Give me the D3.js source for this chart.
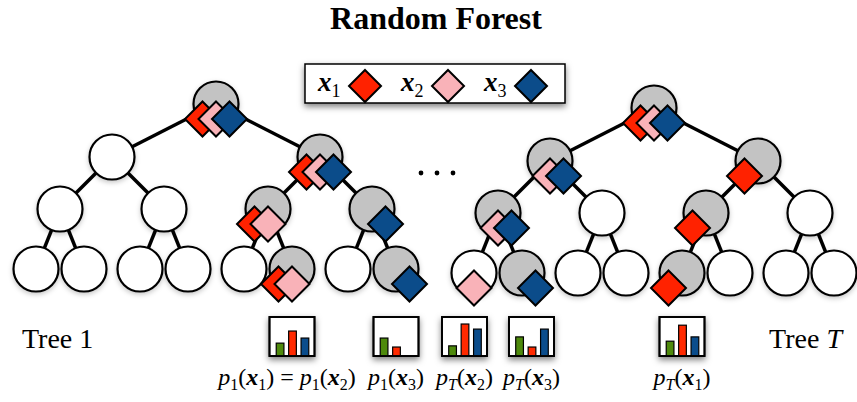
<!DOCTYPE html>
<html><head><meta charset="utf-8">
<script src="https://cdn.jsdelivr.net/npm/d3@7"></script>
<style>body{margin:0;background:#fff} svg{display:block}</style>
</head><body><svg id="c" width="857" height="402"></svg>
<script>
// ---------------- data ----------------
const title = "Random Forest";
const samples = ["1", "2", "3"];                       // x_1, x_2, x_3
const sampleColors = ["#ff2200", "#f9b2b8", "#0b4c8a"];
const classes = ["c1", "c2", "c3"];
const classColors = ["#4e8a0c", "#ff2a00", "#0b4d8c"];
const treeNames = ["1", "T"];
// decision path (L/R at each level) of each sample in each tree
const pathsTree1 = ["RLR", "RLR", "RRR"];
const pathsTreeT = ["RLL", "LLL", "LLR"];
// visited nodes that are drawn unshaded
const unshadedTree1 = [];
const unshadedTreeT = ["LLL"];
// leaf class histograms
const histTree = [0, 0, 1, 1, 1];
const histLeaf = ["RLR", "RRR", "LLL", "LLR", "RLL"];
const histValues = [
  [0.33, 0.64, 0.46],
  [0.46, 0.23, 0.00],
  [0.26, 0.82, 0.69],
  [0.49, 0.23, 0.69],
  [0.38, 0.79, 0.49]
];
// label terms: [tree index symbol, sample index]
const histLabels = [
  [["1", "1"], ["1", "2"]],
  [["1", "3"]],
  [["T", "2"]],
  [["T", "3"]],
  [["T", "1"]]
];

// ---------------- layout ----------------
const svg = d3.select("#c");
const FONT = "'Liberation Serif','Times New Roman',serif";
const defs = svg.append("defs");
function shadow(id, dy, sd, op) {
  const f = defs.append("filter").attr("id", id)
    .attr("x", "-50%").attr("y", "-50%").attr("width", "200%").attr("height", "200%");
  f.append("feDropShadow").attr("dx", 0).attr("dy", dy).attr("stdDeviation", sd)
    .attr("flood-color", "#000").attr("flood-opacity", op);
}
shadow("shC", 2, 2.5, 0.22);
shadow("shB", 3, 3, 0.5);

const depthY = d3.scaleOrdinal().domain([0, 1, 2, 3]).range([104, 157, 209, 269]);
const pairX = d3.scaleLinear().domain([0, 3]).range([36, 348]);
const leafGap = 48;
const treeShift = [[0, 0], [438, 4]];
const R = 22.5, H = 17.5, DDX = 13.5, DDY = 15;

const allPaths = [pathsTree1, pathsTreeT];
const unshaded = [unshadedTree1, unshadedTreeT];

function leafX(t, id) {
  const i = parseInt(id.replace(/L/g, "0").replace(/R/g, "1"), 2);
  return pairX(Math.floor(i / 2)) + (i % 2) * leafGap + treeShift[t][0];
}
function nodePos(t, id) {
  if (id.length === 3) return [leafX(t, id), depthY(3) + treeShift[t][1]];
  const a = nodePos(t, id + "L"), b = nodePos(t, id + "R");
  return [(a[0] + b[0]) / 2, depthY(id.length) + treeShift[t][1]];
}

// build nodes
const nodes = [], edges = [];
treeNames.forEach((tn, t) => {
  const ids = [""];
  for (let d = 1; d <= 3; d++) {
    const prev = ids.filter(s => s.length === d - 1);
    prev.forEach(p => { ids.push(p + "L"); ids.push(p + "R"); });
  }
  ids.forEach(id => {
    const [x, y] = nodePos(t, id);
    const visitors = allPaths[t].map((p, si) => p.startsWith(id) ? si : -1).filter(v => v >= 0);
    nodes.push({ t, id, x, y, visitors, shaded: visitors.length > 0 && !unshaded[t].includes(id) });
    if (id.length > 0) {
      const [px, py] = nodePos(t, id.slice(0, -1));
      edges.push({ x1: px, y1: py, x2: x, y2: y });
    }
  });
});

// title
svg.append("text").attr("x", 436).attr("y", 29).attr("text-anchor", "middle")
  .attr("font-family", FONT).attr("font-weight", "bold").attr("font-size", 32)
  .attr("fill", "#000").text(title);

// edges
svg.append("g").selectAll("line").data(edges).join("line")
  .attr("x1", d => d.x1).attr("y1", d => d.y1).attr("x2", d => d.x2).attr("y2", d => d.y2)
  .attr("stroke", "#000").attr("stroke-width", 3.5);

// circles
svg.append("g").selectAll("circle").data(nodes).join("circle")
  .attr("cx", d => d.x).attr("cy", d => d.y).attr("r", R)
  .attr("fill", d => d.shaded ? "#c3c3c3" : "#fff")
  .attr("stroke", "#000").attr("stroke-width", 2.2)
  .attr("filter", "url(#shC)");

// diamonds
const diamond = h => `M0,${-h}L${h},0L0,${h}L${-h},0Z`;
const dItems = [];
nodes.slice().sort((a, b) => a.id.length - b.id.length).forEach(n => {
  n.visitors.forEach(si => dItems.push({ x: n.x + (si - 1) * DDX, y: n.y + DDY, si }));
});
svg.append("g").selectAll("path").data(dItems).join("path")
  .attr("d", diamond(H))
  .attr("transform", d => `translate(${d.x},${d.y})`)
  .attr("fill", d => sampleColors[d.si])
  .attr("stroke", "#000").attr("stroke-width", 2).attr("stroke-linejoin", "miter");

// dots
const dotX = d3.scalePoint().domain([0, 1, 2]).range([421, 453]);
svg.append("g").selectAll("circle").data([0, 1, 2]).join("circle")
  .attr("cx", d => dotX(d)).attr("cy", 173).attr("r", 2.4).attr("fill", "#000");

// legend
const lg = svg.append("g");
lg.append("rect").attr("x", 305).attr("y", 64).attr("width", 260).attr("height", 39)
  .attr("fill", "#fff").attr("stroke", "#000").attr("stroke-width", 1.5).attr("filter", "url(#shB)");
const legX = d3.scalePoint().domain(samples).range([318, 484]);
samples.forEach((s, i) => {
  const tx = lg.append("text").attr("x", legX(s)).attr("y", 91)
    .attr("font-family", FONT).attr("font-size", 27).attr("fill", "#000");
  tx.append("tspan").attr("font-weight", "bold").attr("font-style", "italic").text("x");
  tx.append("tspan").attr("font-size", 18).attr("dy", 6).text(s);
  lg.append("path").attr("d", diamond(16))
    .attr("transform", `translate(${legX(s) + 47},${86})`)
    .attr("fill", sampleColors[i]).attr("stroke", "#000").attr("stroke-width", 2);
});

// tree labels
svg.append("text").attr("x", 22).attr("y", 348).attr("font-family", FONT)
  .attr("font-size", 28).attr("fill", "#000").text("Tree " + treeNames[0]);
const tl = svg.append("text").attr("x", 842).attr("y", 348).attr("text-anchor", "end")
  .attr("font-family", FONT).attr("font-size", 28).attr("fill", "#000");
tl.append("tspan").text("Tree ");
tl.append("tspan").attr("font-style", "italic").text(treeNames[1]);

// histograms
const BW = 45, BH = 39, BY = 317, MINGAP = 67;
let hx = histLeaf.map((id, k) => ({ k, x: leafX(histTree[k], id) }));
hx.sort((a, b) => a.x - b.x);
for (let i = 1; i < hx.length; i++) {
  const d = hx[i].x - hx[i - 1].x;
  if (d < MINGAP) { const s = (MINGAP - d) / 2; hx[i - 1].x -= s; hx[i].x += s; }
}
const boxCx = [];
hx.forEach(h => boxCx[h.k] = h.x);

const yH = d3.scaleLinear().domain([0, 1]).range([BY + BH, BY]);
const xH = d3.scaleBand().domain(classes).range([3, BW - 2]).paddingInner(0.38).paddingOuter(0.3);

histValues.forEach((vals, k) => {
  const g = svg.append("g").attr("transform", `translate(${boxCx[k] - BW / 2},0)`);
  g.append("rect").attr("x", 0).attr("y", BY).attr("width", BW).attr("height", BH)
    .attr("fill", "#fff").attr("stroke", "#000").attr("stroke-width", 1.8).attr("filter", "url(#shB)");
  g.selectAll("rect.bar").data(vals.map((v, c) => ({ v, c })).filter(d => d.v > 0)).join("rect")
    .attr("class", "bar")
    .attr("x", d => xH(classes[d.c])).attr("width", xH.bandwidth())
    .attr("y", d => yH(d.v)).attr("height", d => yH(0) - yH(d.v))
    .attr("fill", d => classColors[d.c]).attr("stroke", "#000").attr("stroke-width", 1.2);
  g.append("rect").attr("x", 0).attr("y", BY).attr("width", BW).attr("height", BH)
    .attr("fill", "none").attr("stroke", "#000").attr("stroke-width", 1.8);

  // label
  const t = svg.append("text").attr("x", boxCx[k] + (histLabels[k].length > 1 ? -5 : 0))
    .attr("y", 385).attr("text-anchor", "middle")
    .attr("font-family", FONT).attr("font-size", 24).attr("fill", "#000");
  histLabels[k].forEach((term, j) => {
    if (j > 0) t.append("tspan").text(" = ");
    t.append("tspan").attr("font-style", "italic").text("p");
    t.append("tspan").attr("font-size", 16).attr("dy", 5)
      .attr("font-style", term[0] === "T" ? "italic" : "normal").text(term[0]);
    t.append("tspan").attr("dy", -5).text("(");
    t.append("tspan").attr("font-style", "italic").attr("font-weight", "bold").text("x");
    t.append("tspan").attr("font-size", 16).attr("dy", 5).text(term[1]);
    t.append("tspan").attr("dy", -5).text(")");
  });
});
</script>
</body></html>
